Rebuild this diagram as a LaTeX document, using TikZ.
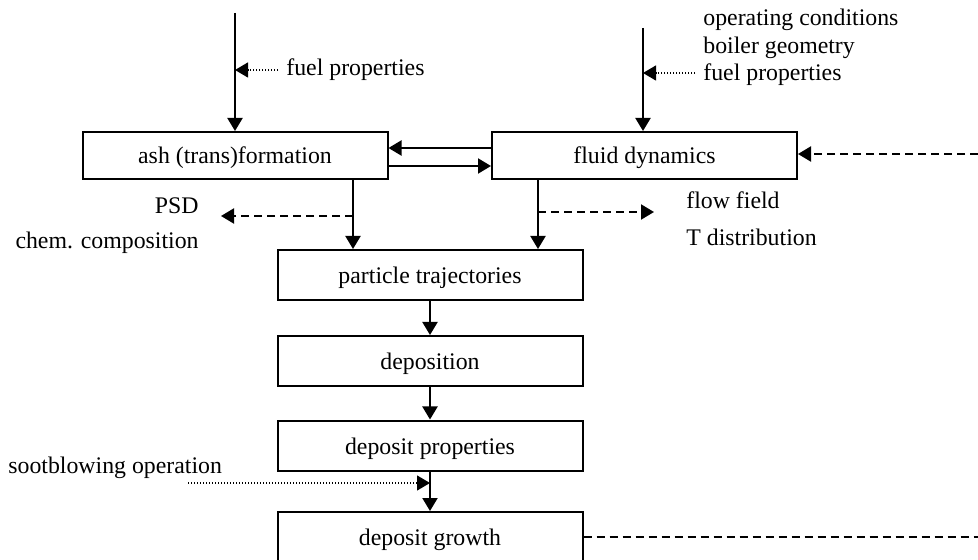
\documentclass[tikz,border=0pt]{standalone}
\usepackage{fontspec}
\setmainfont{Liberation Serif}
\usetikzlibrary{arrows.meta}
\begin{document}
\begin{tikzpicture}[x=0.5pt,y=-0.5pt,
  txt/.style={font=\fontsize{11.9}{14}\selectfont},
  box/.style={txt, draw, line width=1pt, minimum width=152.5pt, minimum height=25pt,
    inner sep=0pt, text height=9pt, text depth=0.5pt},
  lbl/.style={txt, inner sep=0pt},
  tip/.style={-{Triangle[length=6.5pt,width=7.5pt]}},
  flow/.style={tip, line width=1pt},
  feed/.style={tip, line width=1pt, dash pattern=on 4pt off 2.5pt},
  hint/.style={tip, line width=0.6pt, dash pattern=on 0.6pt off 0.9pt}]
\useasboundingbox (0,0) rectangle (978,560);

% process boxes
\node[box, minimum height=23.5pt] (ash)   at (235,155.5)   {ash (trans)formation};
\node[box, minimum height=23.5pt] (fluid) at (644.5,155.5) {fluid dynamics};
\node[box] (traj)   at (430,275)   {particle trajectories};
\node[box] (depo)   at (430,361)   {deposition};
\node[box] (props)  at (430,445.5) {deposit properties};
\node[box] (growth) at (430,537)   {deposit growth};

% side labels
\node[lbl, anchor=west] (fuelA) at (286,70) {fuel properties};
\node[lbl, anchor=west] (opc)   at (703,20) {operating conditions};
\node[lbl, anchor=west] (geom)  at (703,48) {boiler geometry};
\node[lbl, anchor=west] (fuelB) at (703,75) {fuel properties};
\node[lbl, anchor=east] (psd)   at (199,206) {PSD};
\node[lbl, anchor=east] (chem)  at (199,243) {chem. composition};
\node[lbl, anchor=west] (ffield) at (686,200) {flow field};
\node[lbl, anchor=west] (tdist)  at (686,237) {T distribution};
\node[lbl, anchor=west] (soot)   at (8,468) {sootblowing operation};

% free ends and junctions
\coordinate (inA) at (235,13);
\coordinate (inB) at (643,28);
\coordinate (jA)  at (235,70);
\coordinate (jB)  at (643,73);
\coordinate (dA)  at (353,216);
\coordinate (dB)  at (538,212);
\coordinate (js)  at (430,483);
\coordinate (rimTop) at (978,154);
\coordinate (rimBot) at (978,537);

% inputs from above
\draw[flow] (inA) -- (ash.north);
\draw[flow] (inB) -- (inB |- fluid.north);
\draw[hint] ([xshift=-4pt]fuelA.west) -- (jA);
\draw[hint] (695,73) -- (jB);

% exchange between ash and fluid dynamics
\draw[flow] (fluid.west |- 0,148) -- (ash.east |- 0,148);
\draw[flow] (ash.east |- 0,166) -- (fluid.west |- 0,166);

% into particle trajectories
\draw[flow] (dA |- ash.south) -- (dA |- traj.north);
\draw[flow] (dB |- fluid.south) -- (dB |- traj.north);
\draw[feed] (dA) -- (221,216);
\draw[feed] (dB) -- (654,212);

% main chain
\draw[flow] (traj.south) -- (depo.north);
\draw[flow] (depo.south) -- (props.north);
\draw[flow] (props.south) -- (growth.north);
\draw[hint] (188,483) -- (js);

% feedback
\draw[feed] (rimTop) -- (fluid.east |- rimTop);
\draw[line width=1pt, dash pattern=on 4pt off 2.5pt] (growth.east) -- (rimBot);
\end{tikzpicture}
\end{document}
